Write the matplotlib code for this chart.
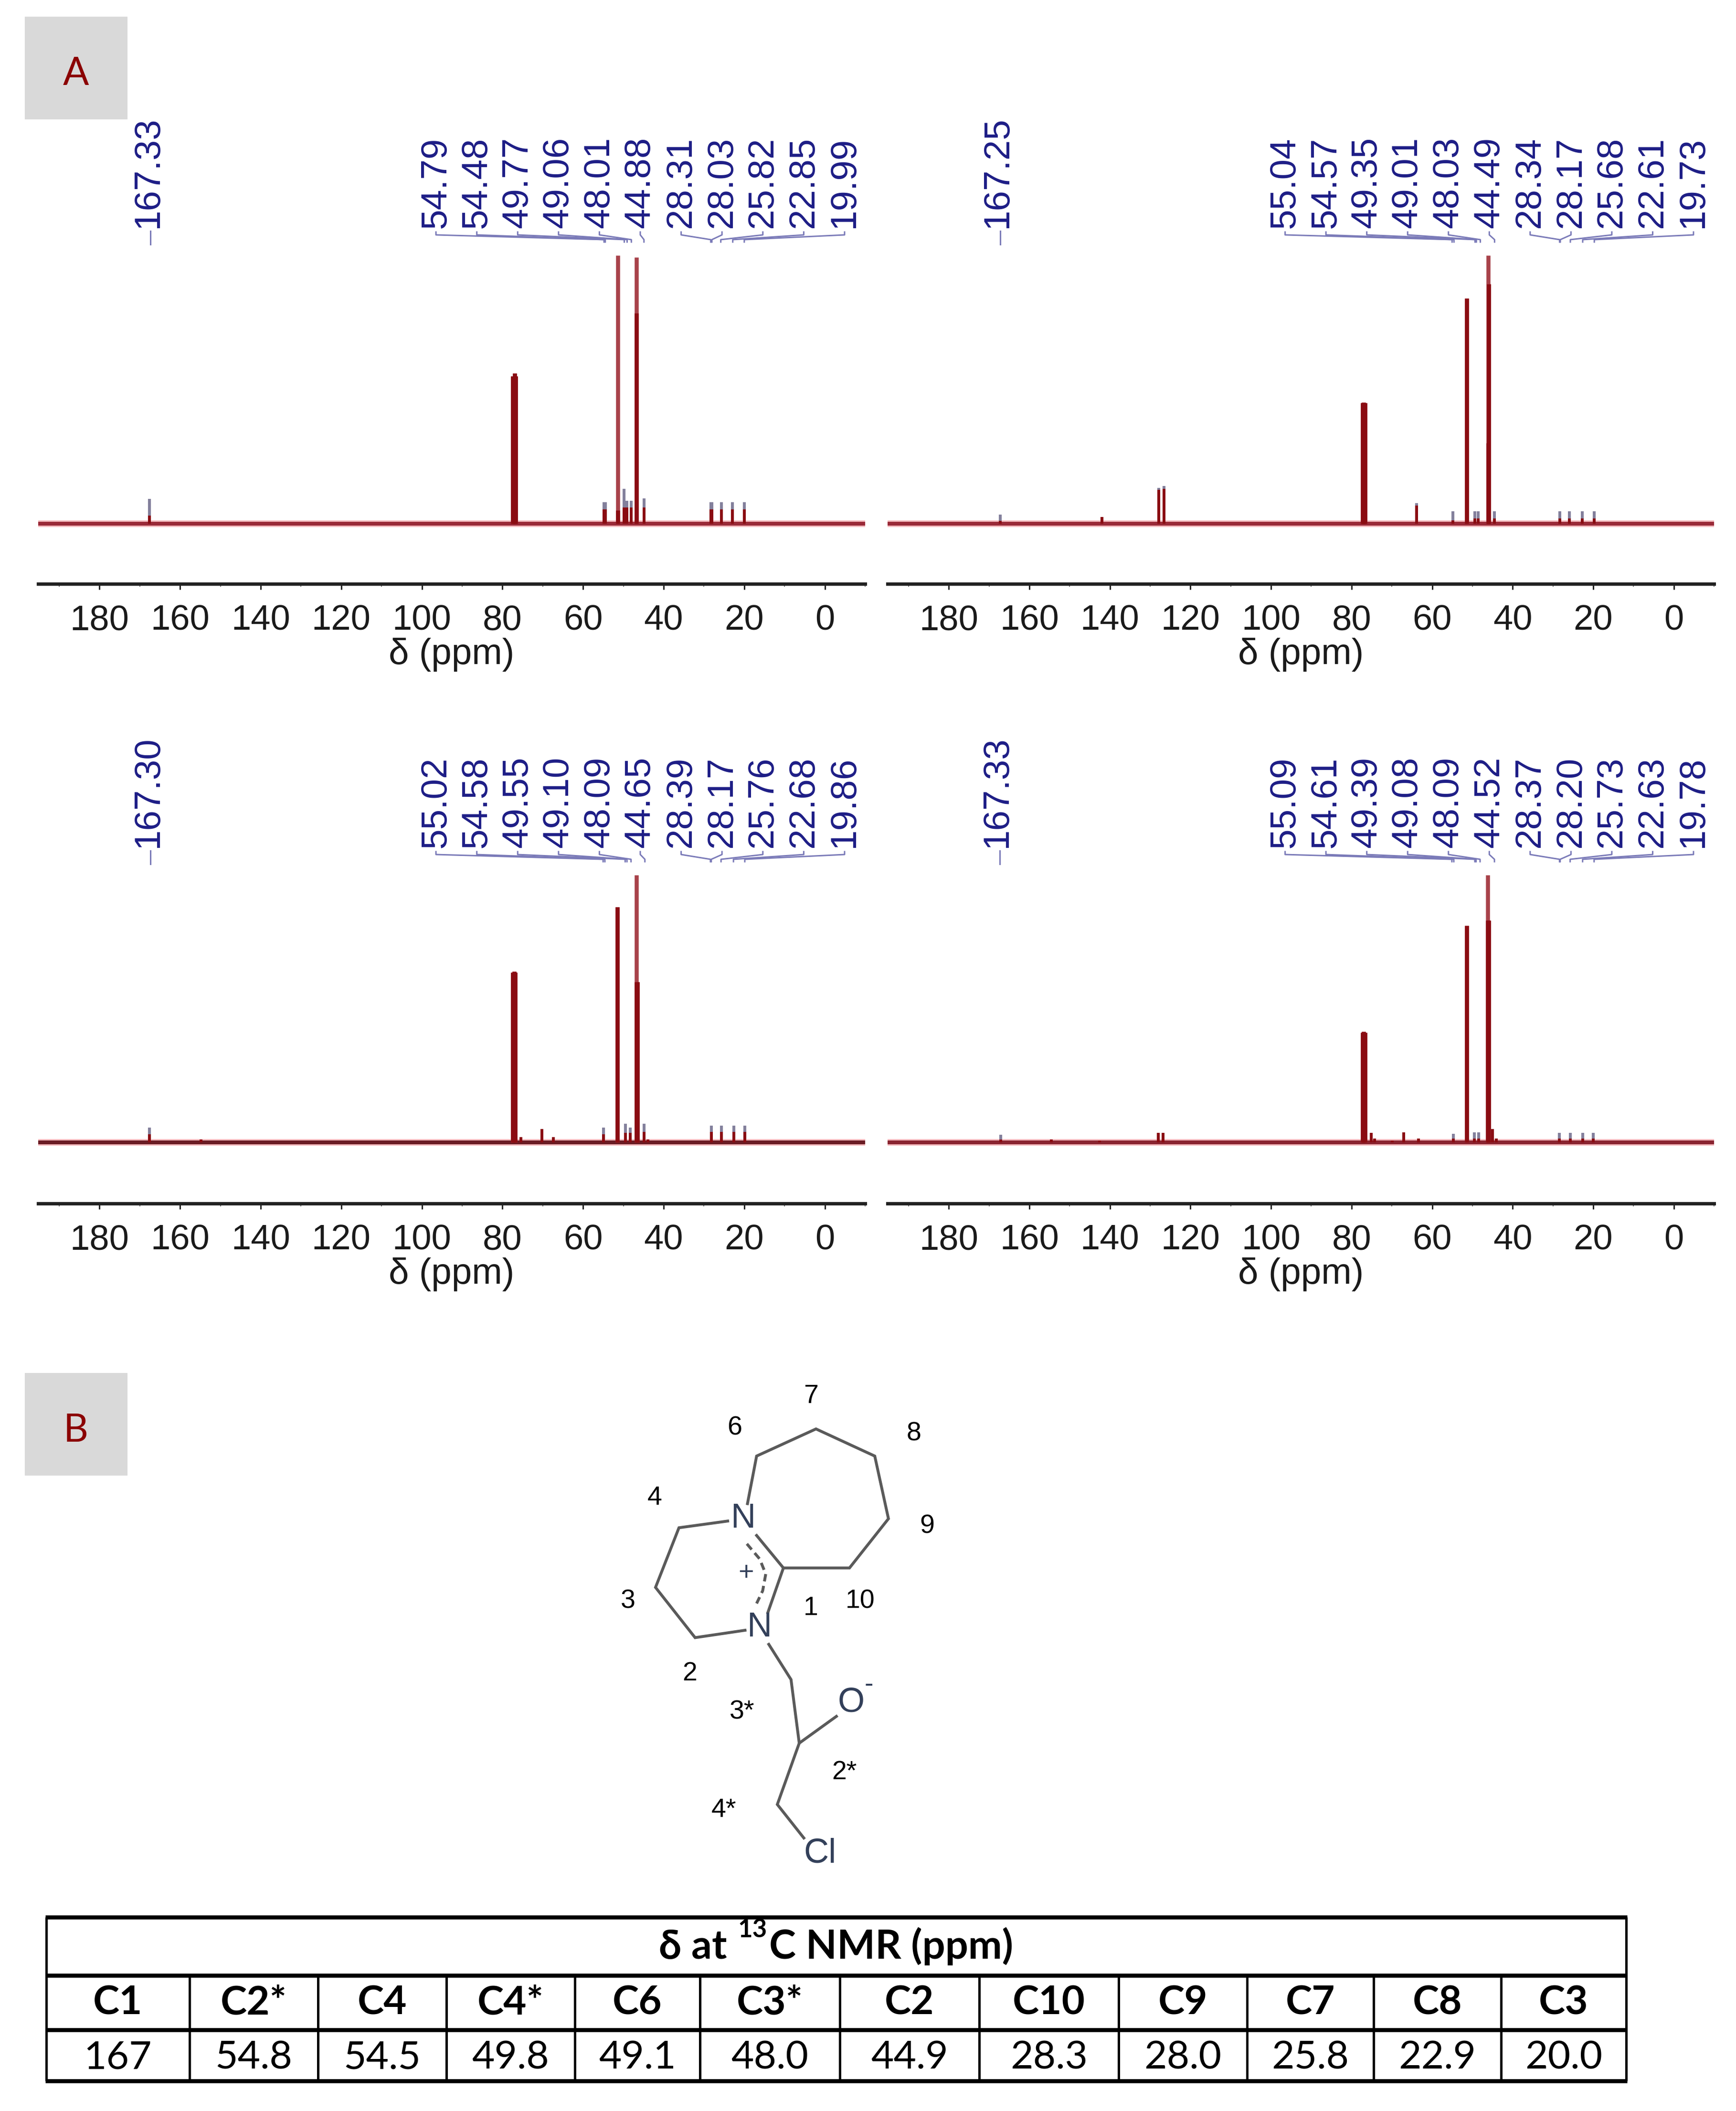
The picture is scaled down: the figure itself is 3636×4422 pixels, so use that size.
import numpy as np
import matplotlib
matplotlib.use("Agg")
import matplotlib.pyplot as plt
from matplotlib.patches import Rectangle
from matplotlib.ticker import MultipleLocator

plt.rcParams['font.family'] = ['Liberation Sans', 'DejaVu Sans']

W, H = 3637, 4422

# picked shifts printed over each spectrum
shifts_1 = [54.79, 54.48, 49.77, 49.06, 48.01, 44.88, 28.31, 28.03, 25.82, 22.85, 19.99]
shifts_2 = [55.04, 54.57, 49.35, 49.01, 48.03, 44.49, 28.34, 28.17, 25.68, 22.61, 19.73]
shifts_3 = [55.02, 54.58, 49.55, 49.10, 48.09, 44.65, 28.39, 28.17, 25.76, 22.68, 19.86]
shifts_4 = [55.09, 54.61, 49.39, 49.08, 48.09, 44.52, 28.37, 28.20, 25.73, 22.63, 19.78]
c1_shift = [167.33, 167.25, 167.30, 167.33]

# peaks: position, top of the pale part, top of the dark part
ppm_1 = [167.6, 77.4, 77.0, 76.7, 54.8, 54.5, 51.4, 49.8, 49.1, 48.0, 46.7, 44.8, 28.3, 28.0, 25.7, 22.9, 20.0]
top_1 = [0.092, 0.55, 0.56, 0.55, 0.08, 0.08, 1.0, 0.13, 0.085, 0.085, 0.993, 0.095, 0.08, 0.08, 0.08, 0.08, 0.08]
core_1 = [0.03, 0.55, 0.56, 0.55, 0.054, 0.054, 0.05, 0.06, 0.06, 0.06, 0.785, 0.06, 0.054, 0.054, 0.054, 0.054, 0.054]

ppm_2 = [167.25, 142.0, 127.9, 126.6, 77.3, 77.0, 76.7, 63.8, 54.9, 51.4, 49.4, 48.6, 46.1, 45.9, 44.5, 28.3, 25.9, 22.7, 19.8]
top_2 = [0.033, 0.025, 0.134, 0.14, 0.45, 0.452, 0.45, 0.076, 0.046, 0.84, 0.046, 0.046, 1.0, 0.894, 0.046, 0.046, 0.046, 0.046, 0.046]
core_2 = [0.01, 0.025, 0.126, 0.13, 0.45, 0.452, 0.45, 0.068, 0.012, 0.84, 0.02, 0.02, 0.30, 0.894, 0.02, 0.02, 0.02, 0.02, 0.02]

ppm_3 = [167.6, 154.8, 77.4, 77.1, 76.8, 75.4, 70.2, 67.4, 54.9, 51.5, 49.5, 48.3, 46.8, 46.5, 44.8, 43.9, 28.2, 25.7, 22.6, 19.8]
top_3 = [0.056, 0.01, 0.635, 0.64, 0.635, 0.02, 0.05, 0.02, 0.056, 0.88, 0.07, 0.056, 1.0, 0.60, 0.07, 0.01, 0.063, 0.063, 0.063, 0.063]
core_3 = [0.03, 0.01, 0.635, 0.64, 0.635, 0.02, 0.05, 0.02, 0.03, 0.88, 0.035, 0.035, 0.60, 0.60, 0.04, 0.01, 0.04, 0.04, 0.04, 0.04]

ppm_4 = [167.1, 154.5, 142.6, 128.0, 126.8, 77.3, 77.0, 76.7, 75.1, 74.3, 69.9, 67.0, 63.4, 54.7, 51.4, 49.5, 48.4, 46.2, 45.9, 45.0, 44.0, 28.4, 25.7, 22.6, 20.0]
top_4 = [0.028, 0.01, 0.008, 0.035, 0.035, 0.41, 0.415, 0.41, 0.036, 0.015, 0.008, 0.038, 0.015, 0.033, 0.81, 0.037, 0.037, 1.0, 0.83, 0.05, 0.015, 0.036, 0.036, 0.036, 0.036]
core_4 = [0.01, 0.01, 0.008, 0.035, 0.035, 0.41, 0.415, 0.41, 0.036, 0.015, 0.008, 0.038, 0.015, 0.015, 0.81, 0.015, 0.015, 0.83, 0.83, 0.05, 0.015, 0.015, 0.015, 0.015, 0.015]

tick_vals = [0, 20, 40, 60, 80, 100, 120, 140, 160, 180]

# table under the structure
table_title = ["δ at", "13", "C NMR (ppm)"]
carbons = ["C1", "C2*", "C4", "C4*", "C6", "C3*", "C2", "C10", "C9", "C7", "C8", "C3"]
carbon_ppm = ["167", "54.8", "54.5", "49.8", "49.1", "48.0", "44.9", "28.3", "28.0", "25.8", "22.9", "20.0"]

# structure numbering
atom_nums = ["7", "6", "8", "4", "9", "3", "1", "10", "2", "3*", "2*", "4*"]
num_xy = [(938, 100), (688, 195), (1276, 212), (425, 403), (1320, 488), (338, 712),
          (938, 732), (1100, 712), (540, 928), (712, 1043), (1048, 1222), (652, 1335)]

NAVY = "#1d1d86"
FAN = "#7a7ab8"
PEAK_DARK = "#8a0c12"
PEAK_MID = "#a8424a"
PEAK_PALE = "#83809c"

fig = plt.figure(figsize=(W / 100, H / 100), dpi=100, facecolor="white")

# page layer in pixel coordinates, for boxes, structure and table
page = fig.add_axes([0, 0, 1, 1])
page.set_xlim(0, W)
page.set_ylim(H, 0)
page.axis("off")


def px(width):
    return width * 72 / 100


def spectrum(x0, x1, y_top, y_base, y_axis, ppm, top, core, shifts, c1, base_col):
    ax = fig.add_axes([x0 / W, 1 - y_axis / H, (x1 - x0) / W, (y_axis - y_top) / H])
    ax.patch.set_alpha(0)
    scale = y_base - y_top
    ax.set_xlim(195.2, -10)
    ax.set_ylim(-(y_axis - y_base) / scale, 1)

    # baseline, pink halo first
    ax.hlines(0, 195.2, -10, color="#f5bcc0", lw=px(14), zorder=1)
    ax.hlines(0, 195.2, -10, color=base_col, lw=px(8), zorder=2)

    for p, t, c in zip(ppm, top, core):
        lw = px(8.5) if t > 0.2 else px(6)
        pale = PEAK_MID if t > 0.2 else PEAK_PALE
        ax.vlines(p, 0, t, color=pale, lw=lw, zorder=3, clip_on=False)
        ax.vlines(p, 0, c, color=PEAK_DARK, lw=lw, zorder=4, clip_on=False)

    # evenly spread labels, each joined to its peak
    label_x = np.linspace(96.5, -4.9, len(shifts))
    y_label = 1 + 57 / scale
    y_a = 1 + 49 / scale
    y_b = 1 + 43 / scale
    y_c = 1 + 33 / scale
    y_d = 1 + 28 / scale
    for lx, s in zip(label_x, shifts):
        ax.text(lx, y_label, f"{s:.2f}", rotation=90, ha="center", va="bottom",
                fontsize=55, color=NAVY, clip_on=False)
        ax.plot([lx, lx, s, s], [y_a, y_b, y_c, y_d], color=FAN, lw=px(3), clip_on=False)
    ax.text(c1 + 0.6, y_label, f"{c1:.2f}", rotation=90, ha="center", va="bottom",
            fontsize=55, color=NAVY, clip_on=False)
    ax.plot([c1, c1], [1 + 51 / scale, 1 + 23 / scale], color=FAN, lw=px(3), clip_on=False)

    for side in ["left", "right", "top"]:
        ax.spines[side].set_visible(False)
    ax.spines["bottom"].set_linewidth(px(7))
    ax.spines["bottom"].set_color("#222222")
    ax.set_yticks([])
    ax.set_xticks(tick_vals)
    ax.set_xticklabels([str(v) for v in tick_vals])
    ax.xaxis.set_minor_locator(MultipleLocator(10))
    ax.tick_params(axis="x", which="major", length=px(12), width=px(3), pad=22,
                   labelsize=53.5, color="#222222", labelcolor="#1a1a1a")
    ax.tick_params(axis="x", which="minor", length=px(6), width=px(2), color="#666666")
    ax.set_xlabel("δ (ppm)", fontsize=55, labelpad=1, color="#1a1a1a")
    return ax


spectrum(80, 1812, 535, 1097, 1223, ppm_1, top_1, core_1, shifts_1, c1_shift[0], "#9a2a38")
spectrum(1859, 3590, 535, 1097, 1223, ppm_2, top_2, core_2, shifts_2, c1_shift[1], "#9a2a38")
spectrum(80, 1812, 1833, 2393, 2521, ppm_3, top_3, core_3, shifts_3, c1_shift[2], "#6a1c24")
spectrum(1859, 3590, 1833, 2393, 2521, ppm_4, top_4, core_4, shifts_4, c1_shift[3], "#8a2430")

# panel letters
for letter, y0, y1 in [("A", 35, 250), ("B", 2876, 3091)]:
    page.add_patch(Rectangle((52, y0), 215, y1 - y0, color="#d9d9d9", lw=0))
    page.text(159, (y0 + y1) / 2 + 13, letter, family=["Lato", "DejaVu Sans"], fontsize=58,
              color="#8b0000", ha="center", va="center")


# structure sketched in crop units, mapped onto the page
def mol(x, y):
    return 1100 + x / 1.568, 2855 + y / 1.425


bonds = [
    [(730, 420), (760, 278), (955, 197), (1148, 278), (1193, 465), (1065, 612), (848, 612)],
    [(760, 515), (848, 612), (797, 745)],
    [(665, 472), (505, 492), (428, 670), (558, 820), (722, 798)],
    [(800, 840), (873, 945), (900, 1135), (1022, 1055)],
    [(900, 1135), (828, 1318), (915, 1418)],
]
for bond in bonds:
    pts = [mol(x, y) for x, y in bond]
    page.plot([p[0] for p in pts], [p[1] for p in pts], color="#5a5a5a", lw=px(6), solid_joinstyle="miter")

arc = [mol(x, y) for x, y in [(728, 540), (770, 585), (790, 630), (780, 680), (760, 718)]]
page.plot([p[0] for p in arc], [p[1] for p in arc], color="#5a5a5a", lw=px(6), ls=(0, (2.6, 1.6)))

for label, x, y, size in [("N", 715, 465, 52), ("N", 768, 790, 52), ("O", 1070, 1015, 52),
                          ("Cl", 968, 1465, 52), ("+", 725, 628, 40), ("-", 1128, 962, 40)]:
    mx, my = mol(x, y)
    page.text(mx, my, label, fontsize=size, color="#33405a", ha="center", va="center")

for label, (x, y) in zip(atom_nums, num_xy):
    mx, my = mol(x, y)
    page.text(mx, my, label, fontsize=40, color="black", ha="center", va="center")

# table
col_edges = [97, 397, 666, 935, 1204, 1466, 1759, 2051, 2343, 2612, 2877, 3144, 3406]
row_lines = [4016, 4138, 4252, 4359]

for y in row_lines:
    page.plot([col_edges[0] - 2, col_edges[-1] + 2], [y, y], color="black", lw=px(8.5), solid_capstyle="butt")
for i, x in enumerate(col_edges):
    y_start = row_lines[0] if i in (0, len(col_edges) - 1) else row_lines[1]
    page.plot([x, x], [y_start, row_lines[3]], color="black", lw=px(5), solid_capstyle="butt")

lato = ["Lato", "DejaVu Sans"]
page.text(1380, 4103, table_title[0], family=lato, weight="bold", fontsize=61, ha="left", va="baseline")
page.text(1545, 4058, table_title[1], family=lato, weight="bold", fontsize=38, ha="left", va="baseline")
page.text(1611, 4103, table_title[2], family=lato, weight="bold", fontsize=61, ha="left", va="baseline")

for i, (name, val) in enumerate(zip(carbons, carbon_ppm)):
    xc = (col_edges[i] + col_edges[i + 1]) / 2
    page.text(xc, 4220, name, family=lato, weight="bold", fontsize=60, ha="center", va="baseline")
    page.text(xc, 4333, val, family=lato, fontsize=59, ha="center", va="baseline")

fig.savefig("out.png", dpi=100, facecolor="white")
plt.close(fig)
